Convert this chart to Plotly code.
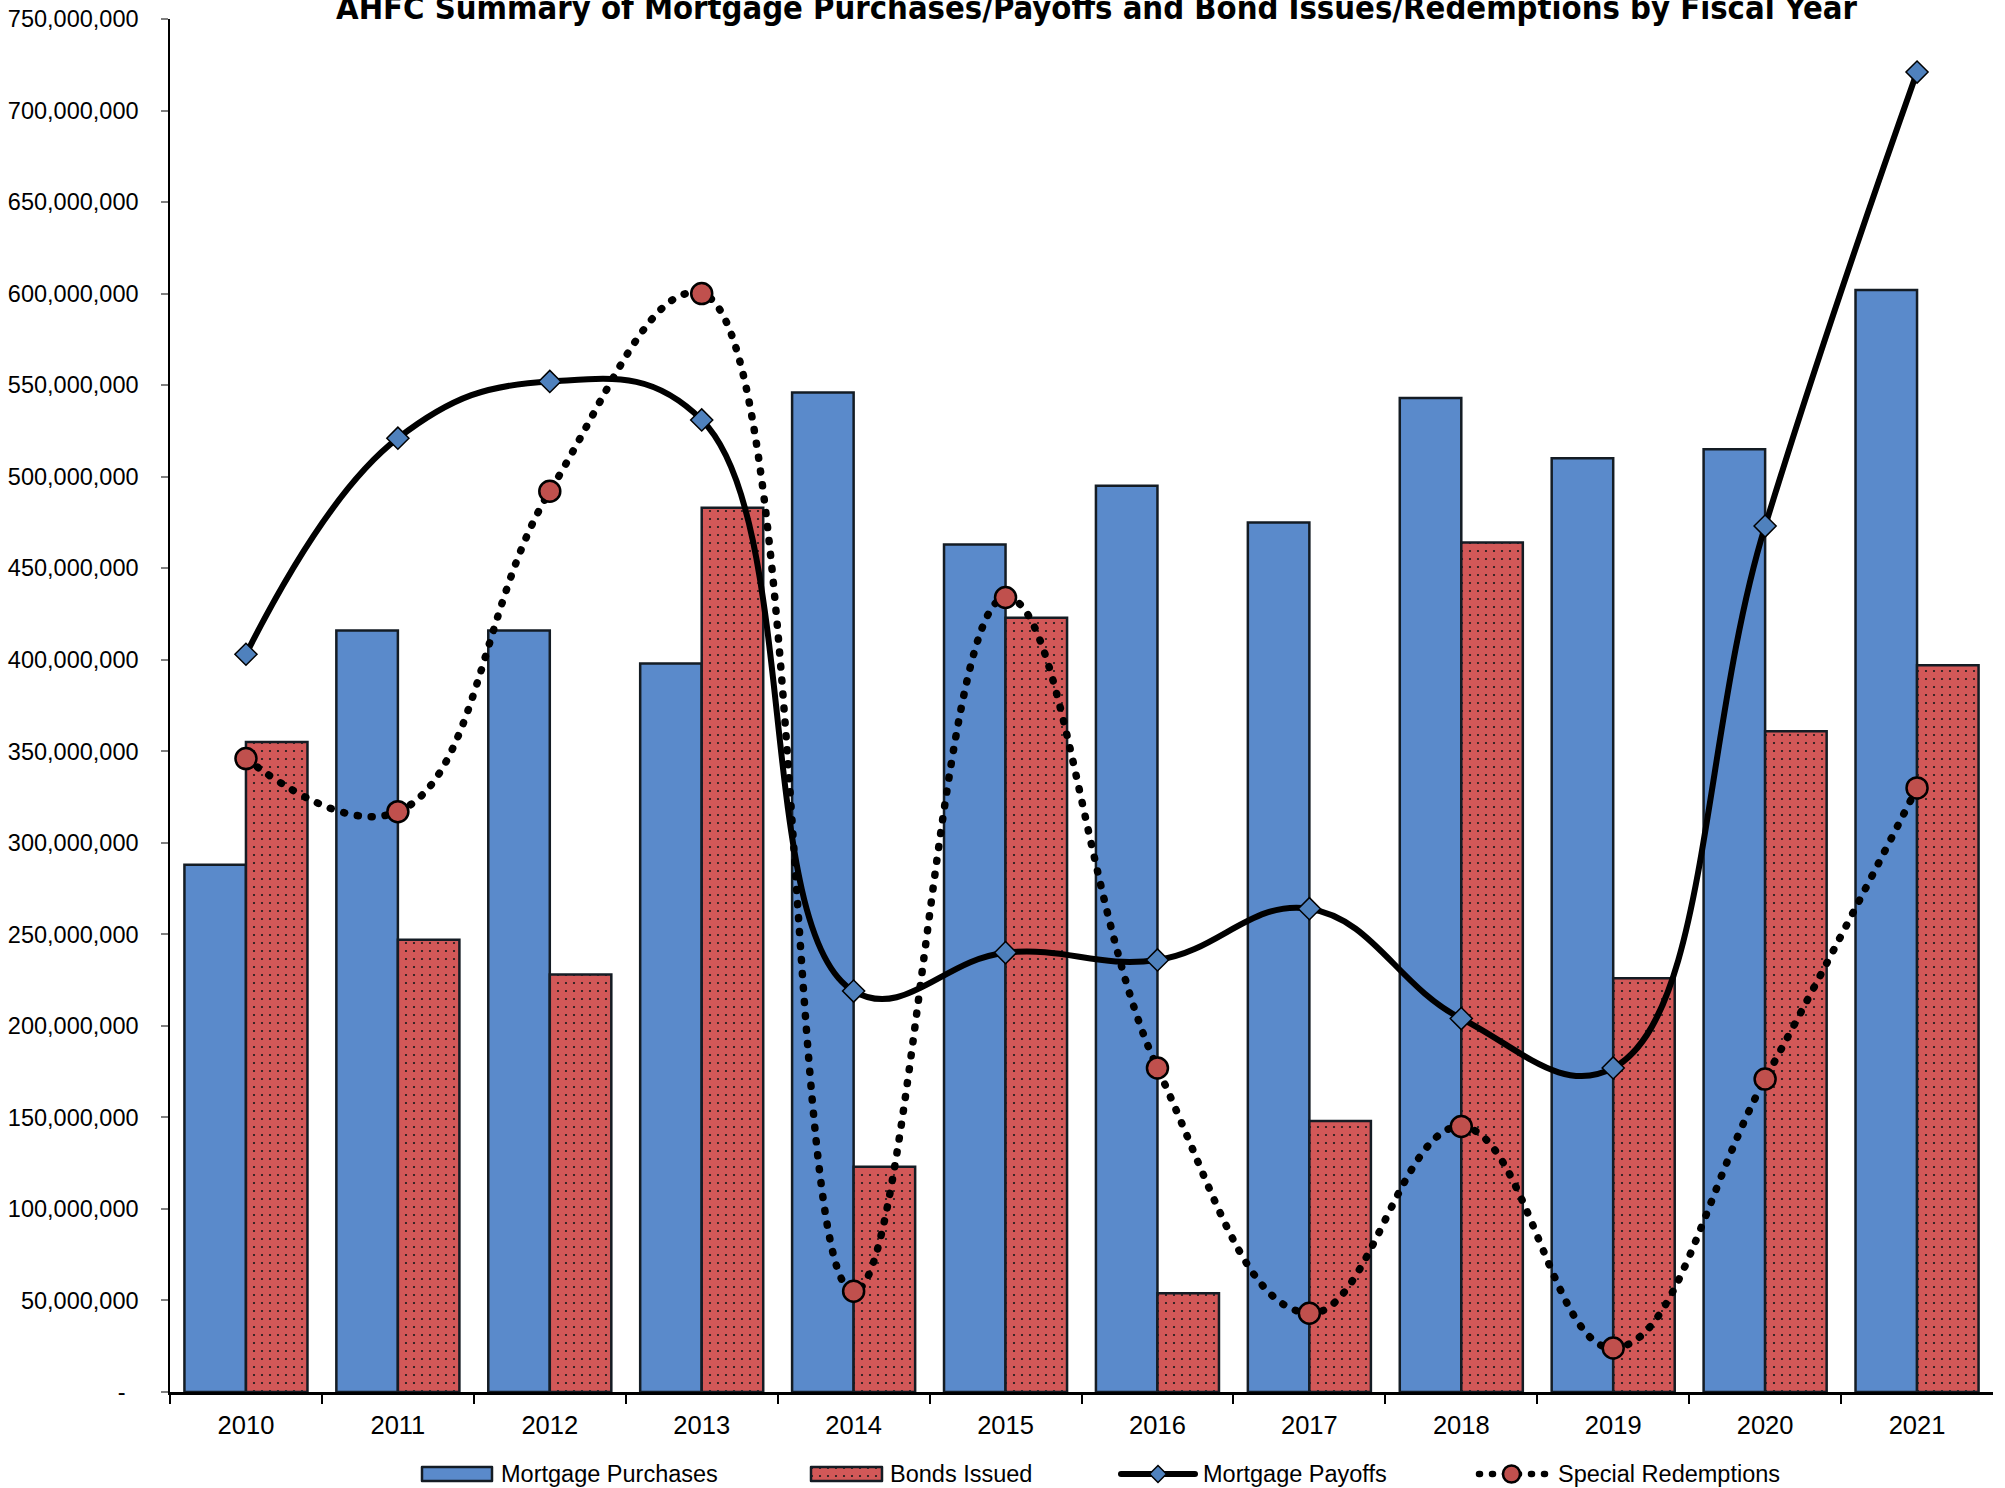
import plotly.graph_objects as go

# Fiscal years and the four series (dollars)
years = ["2010", "2011", "2012", "2013", "2014", "2015",
         "2016", "2017", "2018", "2019", "2020", "2021"]
mortgage_purchases = [288e6, 416e6, 416e6, 398e6, 546e6, 463e6,
                      495e6, 475e6, 543e6, 510e6, 515e6, 602e6]
bonds_issued = [355e6, 247e6, 228e6, 483e6, 123e6, 423e6,
                54e6, 148e6, 464e6, 226e6, 361e6, 397e6]
mortgage_payoffs = [403e6, 521e6, 552e6, 531e6, 219e6, 240e6,
                    236e6, 264e6, 204e6, 177e6, 473e6, 721e6]
special_redemptions = [346e6, 317e6, 492e6, 600e6, 55e6, 434e6,
                       177e6, 43e6, 145e6, 24e6, 171e6, 330e6]

y_ticks = list(range(0, 750_000_001, 50_000_000))
y_tick_text = ["-\u00a0\u00a0"] + [f"{v:,}" for v in y_ticks[1:]]

series_names = ["Mortgage Purchases", "Bonds Issued",
                "Mortgage Payoffs", "Special Redemptions"]

W, H = 2005, 1488
PLOT_L, PLOT_R, PLOT_T, PLOT_B = 170, 1993, 19, 1392

BLUE = "#5A8ACB"
RED = "#D25858"
EDGE = "#141c24"
MARK_BLUE = "#4F81BD"
MARK_RED = "#C0504D"
FONT = "Liberation Sans, Arial, sans-serif"
DOT_DASH = "1px,13px"

fig = go.Figure()

fig.add_bar(
    x=years, y=mortgage_purchases, name=series_names[0],
    marker=dict(color=BLUE, line=dict(color=EDGE, width=2.5)),
)
fig.add_bar(
    x=years, y=bonds_issued, name=series_names[1],
    marker=dict(color=RED, line=dict(color=EDGE, width=2.5),
                pattern=dict(shape=".", fgcolor="#1a1a1a", bgcolor=RED,
                             size=8, solidity=0.06)),
)
fig.add_scatter(
    x=years, y=mortgage_payoffs, name=series_names[2], mode="lines+markers",
    line=dict(color="black", width=6, shape="spline", smoothing=1.2),
    marker=dict(symbol="diamond", size=17, color=MARK_BLUE,
                line=dict(color="black", width=1.5)),
    cliponaxis=False,
)
fig.add_scatter(
    x=years, y=special_redemptions, name=series_names[3], mode="lines+markers",
    line=dict(color="black", width=7.5, dash=DOT_DASH, shape="spline", smoothing=1.2),
    marker=dict(symbol="circle", size=21, color=MARK_RED,
                line=dict(color="black", width=2.5)),
    cliponaxis=False,
)

# Hand-built legend on a pixel-space overlay axis
LEG_Y = 1474
legend_items = [
    # (kind, glyph x0, glyph x1, text x)
    ("bar_blue", 422, 492, 499),
    ("bar_red", 811, 882, 888),
    ("line", 1121, 1195, 1201),
    ("dots", 1476, 1547, 1556),
]
for (kind, x0, x1, tx), name in zip(legend_items, series_names):
    if kind == "bar_blue":
        fig.add_scatter(
            x=[x0, x1, x1, x0, x0], y=[LEG_Y - 7, LEG_Y - 7, LEG_Y + 7, LEG_Y + 7, LEG_Y - 7],
            xaxis="x2", yaxis="y2", mode="lines", fill="toself", fillcolor=BLUE,
            line=dict(color=EDGE, width=2.5), showlegend=False, hoverinfo="skip",
        )
    elif kind == "bar_red":
        fig.add_scatter(
            x=[x0, x1, x1, x0, x0], y=[LEG_Y - 7, LEG_Y - 7, LEG_Y + 7, LEG_Y + 7, LEG_Y - 7],
            xaxis="x2", yaxis="y2", mode="lines", fill="toself", fillcolor=RED,
            fillpattern=dict(shape=".", fgcolor="#1a1a1a", bgcolor=RED, size=8, solidity=0.06),
            line=dict(color=EDGE, width=2.5), showlegend=False, hoverinfo="skip",
        )
    elif kind == "line":
        fig.add_scatter(
            x=[x0, x1], y=[LEG_Y, LEG_Y], xaxis="x2", yaxis="y2", mode="lines",
            line=dict(color="black", width=6), showlegend=False, hoverinfo="skip",
        )
        fig.add_scatter(
            x=[(x0 + x1) / 2], y=[LEG_Y], xaxis="x2", yaxis="y2", mode="markers",
            marker=dict(symbol="diamond", size=13, color=MARK_BLUE,
                        line=dict(color="black", width=1.5)),
            showlegend=False, hoverinfo="skip",
        )
    else:
        fig.add_scatter(
            x=[x0 + 3, x1], y=[LEG_Y, LEG_Y], xaxis="x2", yaxis="y2", mode="lines",
            line=dict(color="black", width=6.5, dash="1px,12px"),
            showlegend=False, hoverinfo="skip",
        )
        fig.add_scatter(
            x=[(x0 + x1) / 2], y=[LEG_Y], xaxis="x2", yaxis="y2", mode="markers",
            marker=dict(symbol="circle", size=17, color=MARK_RED,
                        line=dict(color="black", width=2.5)),
            showlegend=False, hoverinfo="skip",
        )
    fig.add_annotation(
        x=tx, y=LEG_Y, xref="x2", yref="y2", text=name, showarrow=False,
        xanchor="left", yanchor="middle", font=dict(family=FONT, size=23.5, color="black"),
    )

fig.add_annotation(
    x=1097 / W, y=(H - 8) / H, xref="paper", yref="paper",
    text="<b>AHFC Summary of Mortgage Purchases/Payoffs and Bond Issues/Redemptions by Fiscal Year</b>",
    showarrow=False, xanchor="center", yanchor="middle",
    font=dict(family="Liberation Sans Narrow, DejaVu Sans Condensed, sans-serif", size=32.5, color="black"),
)

fig.update_layout(
    template="none",
    width=W, height=H, autosize=False,
    margin=dict(l=0, r=0, t=0, b=0, pad=0),
    paper_bgcolor="white", plot_bgcolor="rgba(0,0,0,0)",
    showlegend=False,
    barmode="group", bargap=0.19, bargroupgap=0.0,
    font=dict(family=FONT, color="black"),
    xaxis=dict(
        domain=[PLOT_L / W, PLOT_R / W], anchor="y", type="category",
        range=[-0.5, len(years) - 0.5],
        showline=True, linecolor="black", linewidth=3,
        ticks="outside", tickson="boundaries", ticklen=9, tickwidth=2, tickcolor="black",
        ticklabelstandoff=8,
        tickfont=dict(family=FONT, size=25.5, color="black"),
        showgrid=False, zeroline=False, automargin=False, fixedrange=True,
    ),
    yaxis=dict(
        domain=[(H - PLOT_B) / H, (H - PLOT_T) / H], anchor="x",
        range=[0, 750_000_000],
        tickmode="array", tickvals=y_ticks, ticktext=y_tick_text,
        showline=True, linecolor="black", linewidth=1.5,
        ticks="outside", ticklen=7, tickwidth=1.5, tickcolor="#7f7f7f",
        ticklabelstandoff=18,
        tickfont=dict(family=FONT, size=23.5, color="black"),
        showgrid=False, zeroline=False, automargin=False, fixedrange=True,
    ),
    xaxis2=dict(domain=[0, 1], range=[0, W], anchor="y2", visible=False,
                fixedrange=True, automargin=False),
    yaxis2=dict(domain=[0, 1], range=[H, 0], anchor="x2", visible=False,
                fixedrange=True, automargin=False),
)

# Round line caps turn the short dashes of the dotted series into round dots
round_caps = """
var s = document.createElement('style');
s.textContent = 'path.js-line { stroke-linecap: round !important; stroke-linejoin: round !important; }';
document.head.appendChild(s);
"""

fig.write_html("out.html", post_script=round_caps)
